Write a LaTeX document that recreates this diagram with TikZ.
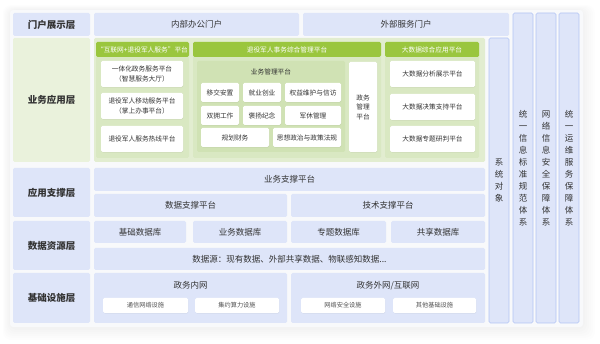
\documentclass[tikz,border=0pt]{standalone}
\usepackage{fontspec}
\setmainfont{Noto Sans CJK SC}
\usetikzlibrary{shadows}
\definecolor{lblue}{HTML}{DEE5F9}
\definecolor{vborder}{HTML}{B3C4F4}
\definecolor{lgreen}{HTML}{EAF2DC}
\definecolor{pgreen}{HTML}{E2EDD0}
\definecolor{cgreen}{HTML}{D9E8C2}
\definecolor{sgreen}{HTML}{D0E2B4}
\definecolor{hgreen}{HTML}{9AC63E}
\definecolor{txt}{HTML}{333333}
\definecolor{bgin}{HTML}{F8F9FB}
\newcommand\bx[7]{\node[#1, anchor=north west, minimum width={(#5-#3)*1pt}, minimum height={(#6-#4)*1pt}] (#2) at (#3,#4) {#7};}
\tikzset{
  base/.style={inner sep=0pt, outer sep=0pt, rounded corners=1.5pt, text=txt, align=center},
  lbl/.style={base, fill=lblue, font=\fontsize{9.5}{11}\selectfont\bfseries},
  glbl/.style={base, fill=lgreen, font=\fontsize{9.5}{11}\selectfont\bfseries},
  bar/.style={base, fill=lblue, font=\fontsize{8.5}{10}\selectfont},
  vcol/.style={base, fill=lblue, draw=vborder, line width=0.6pt, font=\fontsize{8.5}{12}\selectfont},
  panel/.style={base, fill=pgreen},
  colb/.style={base, fill=cgreen},
  subp/.style={base, fill=sgreen, font=\fontsize{6.7}{9.5}\selectfont},
  ghead/.style={base, fill=hgreen, text=white, font=\fontsize{6.7}{8}\selectfont},
  wbox/.style={base, fill=white, font=\fontsize{6.7}{9.5}\selectfont, drop shadow={opacity=0.12, shadow xshift=0.4pt, shadow yshift=-0.6pt}},
  sbox/.style={base, fill=white, font=\fontsize{6.2}{8}\selectfont, text=txt!85, drop shadow={opacity=0.10, shadow xshift=0.4pt, shadow yshift=-0.6pt}},
  ttl/.style={inner sep=0pt, text=txt},
}
\begin{document}
\begin{tikzpicture}[x=1pt,y=-1pt]
\useasboundingbox[fill=white] (0,0) rectangle (600,344);
% soft overall shadow
\foreach \d in {12,10,8,6,4,2}{
  \fill[black, opacity=0.008, rounded corners=8pt] (10-\d*0.6,10-\d*0.4) rectangle (583+\d,328+\d);
}
\fill[bgin, rounded corners=3pt] (10,10) rectangle (583,327);
% left labels
\bx{lbl}{l1}{13}{13}{90}{36}{门户展示层}
\bx{glbl}{l2}{13}{38}{90}{162}{业务应用层}
\bx{lbl}{l3}{13}{168}{90}{217}{应用支撑层}
\bx{lbl}{l4}{13}{221}{90}{270}{数据资源层}
\bx{lbl}{l5}{13}{273}{90}{323}{基础设施层}
% portals
\bx{bar}{p1}{94}{13}{299}{36}{内部办公门户}
\bx{bar}{p2}{303}{13}{509}{36}{外部服务门户}
% application panel
\bx{panel}{ap}{94}{38}{485}{162}{}
\bx{colb}{c1}{96}{42}{189}{158}{}
\bx{colb}{c2}{193}{42}{381}{158}{}
\bx{colb}{c3}{385}{42}{479}{158}{}
\bx{ghead}{h1}{96}{42}{189}{57}{“互联网+退役军人服务”平台}
\bx{ghead}{h2}{193}{42}{381}{57}{退役军人事务综合管理平台}
\bx{ghead}{h3}{385}{42}{479}{57}{大数据综合应用平台}
\bx{wbox}{a1}{101}{61}{183}{87}{一体化政务服务平台\\（智慧服务大厅）}
\bx{wbox}{a2}{101}{93}{183}{119}{退役军人移动服务平台\\（掌上办事平台）}
\bx{wbox}{a3}{101}{126}{183}{152}{退役军人服务热线平台}
\bx{subp}{bm}{197}{61}{345}{152}{}
\node[ttl, font=\fontsize{6.7}{8}\selectfont] (bmt) at (271,72) {业务管理平台};
\bx{wbox}{b1}{201}{83}{239}{102}{移交安置}
\bx{wbox}{b2}{243}{83}{281}{102}{就业创业}
\bx{wbox}{b3}{285}{83}{341}{102}{权益维护与信访}
\bx{wbox}{b4}{201}{106}{239}{125}{双拥工作}
\bx{wbox}{b5}{243}{106}{281}{125}{褒扬纪念}
\bx{wbox}{b6}{285}{106}{341}{125}{军休管理}
\bx{wbox}{b7}{201}{128}{269}{147}{规划财务}
\bx{wbox}{b8}{273}{128}{341}{147}{思想政治与政策法规}
\bx{wbox}{zw}{349}{62}{377}{152}{政务\\管理\\平台}
\bx{wbox}{d1}{390}{61}{475}{87}{大数据分析展示平台}
\bx{wbox}{d2}{390}{94}{475}{120}{大数据决策支持平台}
\bx{wbox}{d3}{390}{126}{475}{152}{大数据专题研判平台}
% support layer
\bx{bar}{s1}{94}{168}{485}{191}{业务支撑平台}
\bx{bar}{s2}{94}{194}{287}{217}{数据支撑平台}
\bx{bar}{s3}{291}{194}{485}{217}{技术支撑平台}
% data layer
\bx{bar}{r1}{94}{221}{186}{243}{基础数据库}
\bx{bar}{r2}{193}{221}{287}{243}{业务数据库}
\bx{bar}{r3}{291}{221}{386}{243}{专题数据库}
\bx{bar}{r4}{391}{221}{485}{243}{共享数据库}
\bx{bar}{r5}{94}{248}{485}{270}{数据源：现有数据、外部共享数据、物联感知数据...}
% infrastructure
\bx{bar}{i1}{94}{273}{287}{323}{}
\bx{bar}{i2}{291}{273}{485}{323}{}
\node[ttl, font=\fontsize{8.5}{10}\selectfont] (i1t) at (190.5,285) {政务内网};
\node[ttl, font=\fontsize{8.5}{10}\selectfont] (i2t) at (388,286) {政务外网/互联网};
\bx{sbox}{n1}{103}{298}{188}{313}{通信网络设施}
\bx{sbox}{n2}{195}{298}{279}{313}{集约算力设施}
\bx{sbox}{n3}{301}{298}{385}{313}{网络安全设施}
\bx{sbox}{n4}{393}{298}{476}{313}{其他基础设施}
% vertical columns
\bx{vcol}{v0}{489}{38}{509}{323}{系\\统\\对\\象}
\bx{vcol}{v1}{513}{13}{533}{323}{统\\一\\信\\息\\标\\准\\规\\范\\体\\系}
\bx{vcol}{v2}{536}{13}{556}{323}{网\\络\\信\\息\\安\\全\\保\\障\\体\\系}
\bx{vcol}{v3}{559}{13}{579}{323}{统\\一\\运\\维\\服\\务\\保\\障\\体\\系}
\end{tikzpicture}
\end{document}
